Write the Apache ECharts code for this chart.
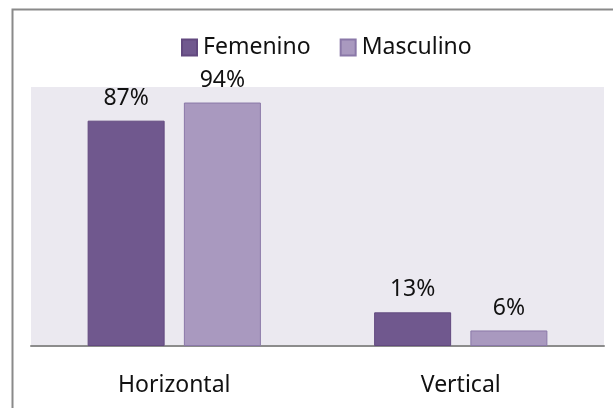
<!DOCTYPE html>
<html><head><meta charset="utf-8">
<script src="https://cdn.jsdelivr.net/npm/echarts@6/dist/echarts.min.js"></script>
<style>html,body{margin:0;padding:0;background:#fff}#c{width:613px;height:408px}</style>
</head><body><div id="c"></div>
<script>
const categories = ['Horizontal', 'Vertical'];
const femenino = [87, 13];
const masculino = [94, 6];
const seriesNames = ['Femenino', 'Masculino'];

const chart = echarts.init(document.getElementById('c'), null, {renderer: 'canvas'});
const font = '"Noto Sans", sans-serif';
const lbl = {show: true, position: 'top', distance: 11, formatter: '{c}%', fontFamily: font, fontSize: 23, color: '#111'};
chart.setOption({
  animation: false,
  graphic: [{type: 'rect', shape: {x: 12.5, y: 9.5, width: 700, height: 500}, style: {fill: 'none', stroke: '#8a8a8a', lineWidth: 2}, z: 10}],
  legend: {
    top: 31, left: 176, itemWidth: 15, itemHeight: 16, itemGap: 29,
    icon: 'rect',
    textStyle: {fontFamily: font, fontSize: 23, color: '#111', padding: [0, 0, 0, 1]},
    data: seriesNames
  },
  grid: {left: 31, right: 9, top: 87, bottom: 62, show: true, backgroundColor: '#ebe9f0', borderWidth: 0},
  xAxis: {
    type: 'category', data: categories,
    axisLine: {lineStyle: {color: '#8c8c8c', width: 2}},
    axisTick: {show: false},
    axisLabel: {margin: 28, fontFamily: font, fontSize: 23, color: '#111'}
  },
  yAxis: {type: 'value', min: 0, max: 100, show: false, splitLine: {show: false}},
  series: [
    {name: seriesNames[0], type: 'bar', data: femenino, barWidth: 77, barGap: '25%',
     itemStyle: {color: '#70588e', borderColor: '#62497f', borderWidth: 1}, label: lbl},
    {name: seriesNames[1], type: 'bar', data: masculino, barWidth: 77,
     itemStyle: {color: '#a999bf', borderColor: '#8a78a8', borderWidth: 1}, label: lbl}
  ]
});
</script></body></html>
